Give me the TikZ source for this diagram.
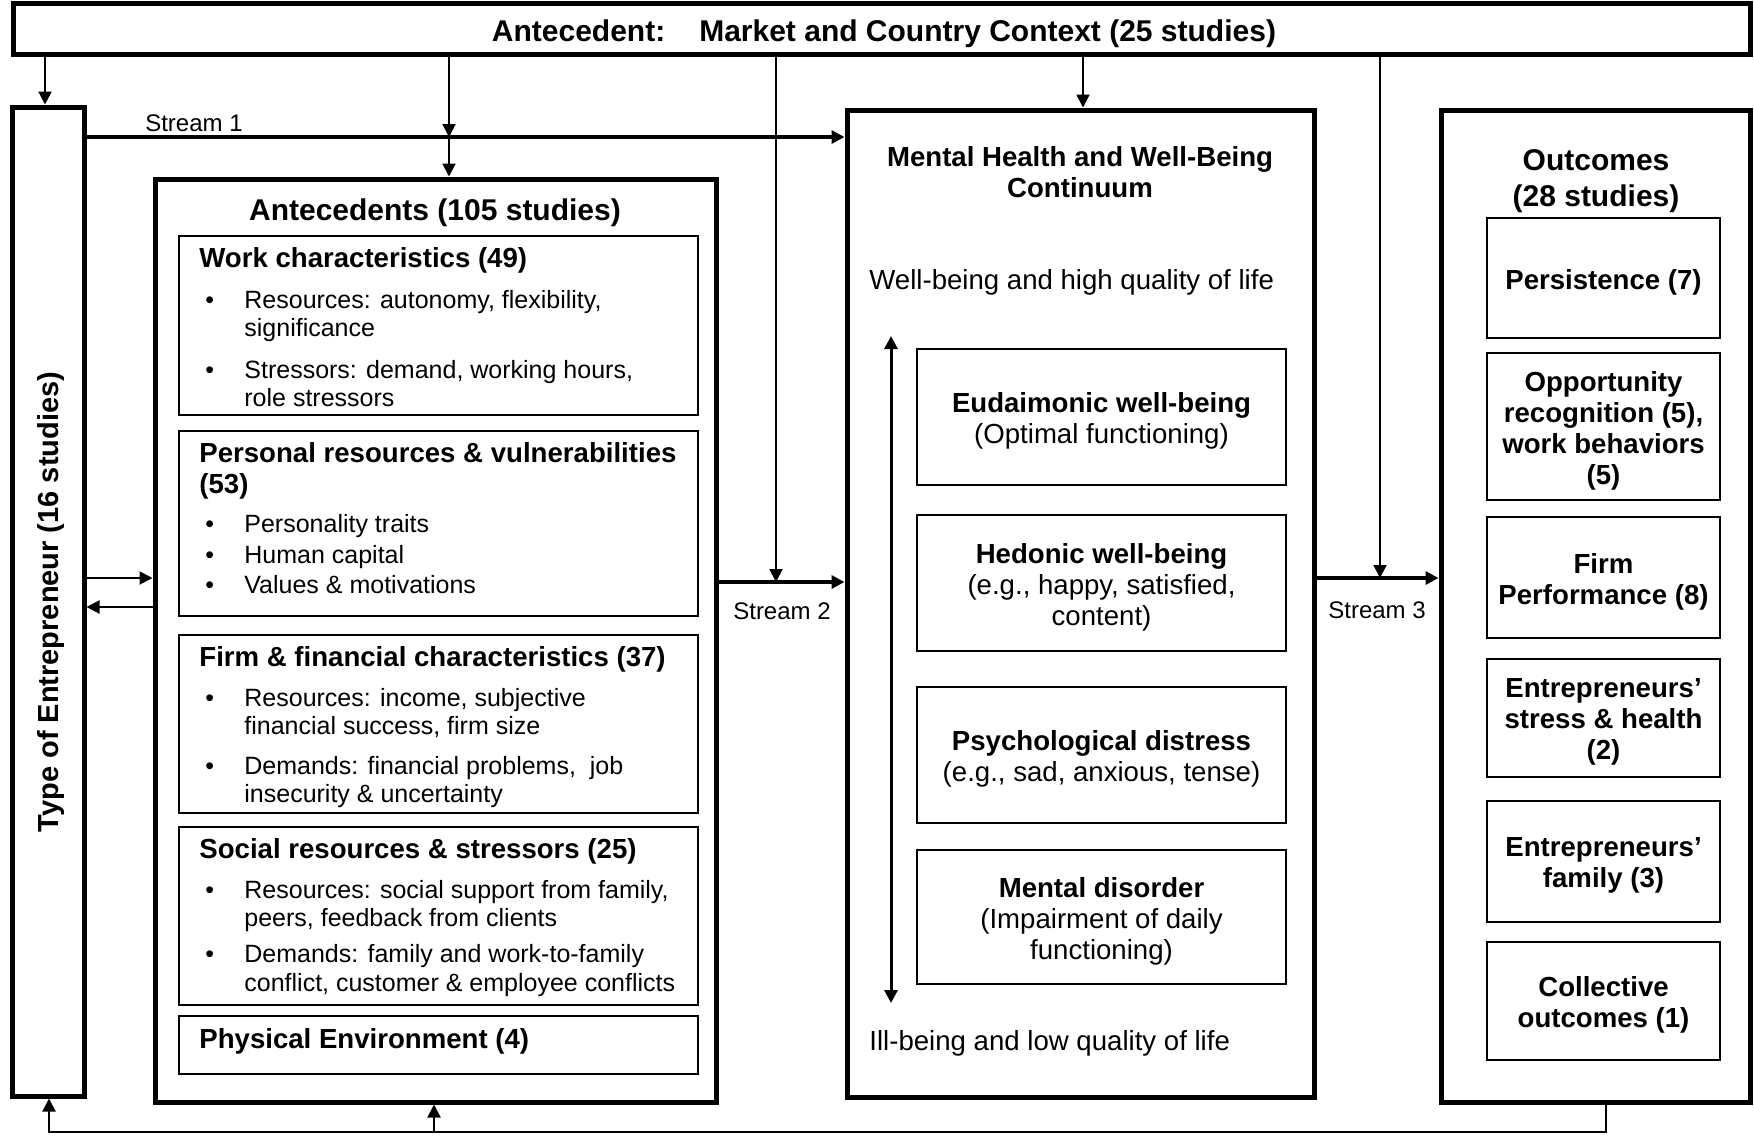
\documentclass[tikz,border=0pt]{standalone}
\usepackage{fontspec}
\setmainfont{Liberation Sans}
\usetikzlibrary{arrows.meta,fit}
\newcommand\myfs[2]{\fontsize{#1}{#2}\selectfont}
\begin{document}
\begin{tikzpicture}[x=0.5pt,y=-0.5pt,
  every node/.style={inner sep=0pt},
  mainbox/.style={draw, line width=2.5pt},
  subbox/.style={draw, line width=1pt},
  tline/.style={anchor=west, text height=0.72em, text depth=0pt, font=\myfs{12.5}{14}},
  thead/.style={anchor=west, text height=0.72em, text depth=0pt, font=\bfseries\myfs{13.8}{15.5}},
  mhtext/.style={anchor=west, text height=0.72em, text depth=0pt, font=\myfs{13.8}{15.5}},
  slabel/.style={font=\myfs{12}{14}},
  mytip/.style={-{Triangle[length=6.5pt,width=6.5pt]}},
  thinarrow/.style={line width=1pt, mytip},
  streamarrow/.style={line width=2.3pt, mytip},
  innertext/.style={align=center, yshift=-2pt, font=\myfs{13.8}{15.5}},
  outtext/.style={align=center, yshift=-2pt, font=\bfseries\myfs{13.8}{15.5}}
]
\useasboundingbox (0,0) rectangle (1754,1136);

% main boxes
\node[mainbox, fit={(13,3) (1750,54)}] (topbar) {};
\node[font=\bfseries\myfs{15}{18}] (toptitle) at (884,34) {Antecedent:\hspace{17pt}Market and Country Context (25 studies)};

\node[mainbox, fit={(12,107) (84,1096)}] (type) {};
\node[font=\bfseries\myfs{14.5}{17}, rotate=90] (typetext) at (51,602) {Type of Entrepreneur (16 studies)};

\node[mainbox, fit={(155,179) (716,1102)}] (ante) {};
\node[font=\bfseries\myfs{15}{18}] (antetitle) at (435,213) {Antecedents (105 studies)};

\node[mainbox, fit={(847,110) (1314,1097)}] (mh) {};
\node[font=\bfseries\myfs{13.8}{15.5}, align=center] (mhtitle) at (1080,172) {Mental Health and Well-Being\\Continuum};

\node[mainbox, fit={(1441,110) (1750,1102)}] (outc) {};
\node[font=\bfseries\myfs{15}{18}, align=center] (outtitle) at (1596,181) {Outcomes\\(28 studies)};

% antecedent sub boxes
\node[subbox, fit={(179,236) (698,415)}] (work) {};
\node[thead] (worka) at (199,260) {Work characteristics (49)};
\node[tline] (workb1) at (205,301) {\textbullet};
\node[tline] (workb) at (244,301) {Resources: autonomy, flexibility,};
\node[tline] (workc) at (244,329) {significance};
\node[tline] (workd1) at (205,371) {\textbullet};
\node[tline] (workd) at (244,371) {Stressors: demand, working hours,};
\node[tline] (worke) at (244,399) {role stressors};

\node[subbox, fit={(179,431) (698,616)}] (pers) {};
\node[thead] (persa) at (199,455) {Personal resources \& vulnerabilities};
\node[thead] (persb) at (199,486) {(53)};
\node[tline] (persc1) at (205,525) {\textbullet};
\node[tline] (persc) at (244,525) {Personality traits};
\node[tline] (persd1) at (205,556) {\textbullet};
\node[tline] (persd) at (244,556) {Human capital};
\node[tline] (perse1) at (205,586) {\textbullet};
\node[tline] (perse) at (244,586) {Values \& motivations};

\node[subbox, fit={(179,635) (698,813)}] (firm) {};
\node[thead] (firma) at (199,659) {Firm \& financial characteristics (37)};
\node[tline] (firmb1) at (205,699) {\textbullet};
\node[tline] (firmb) at (244,699) {Resources: income, subjective};
\node[tline] (firmc) at (244,727) {financial success, firm size};
\node[tline] (firmd1) at (205,767) {\textbullet};
\node[tline] (firmd) at (244,767) {Demands: financial problems,\ \ job};
\node[tline] (firme) at (244,795) {insecurity \& uncertainty};

\node[subbox, fit={(179,827) (698,1005)}] (soc) {};
\node[thead] (soca) at (199,851) {Social resources \& stressors (25)};
\node[tline] (socb1) at (205,891) {\textbullet};
\node[tline] (socb) at (244,891) {Resources: social support from family,};
\node[tline] (socc) at (244,919) {peers, feedback from clients};
\node[tline] (socd1) at (205,955) {\textbullet};
\node[tline] (socd) at (244,955) {Demands: family and work-to-family};
\node[tline] (soce) at (244,984) {conflict, customer \& employee conflicts};

\node[subbox, fit={(179,1016) (698,1074)}] (phys) {};
\node[thead] (physa) at (199,1041) {Physical Environment (4)};

% mental health inner
\node[mhtext] (wellhigh) at (869,282) {Well-being and high quality of life};
\node[mhtext] (illlow) at (869,1043) {Ill-being and low quality of life};
\node[subbox, fit={(917,349) (1286,485)}] (eud) {};
\node[innertext] (eudt) at (eud.center) {\textbf{Eudaimonic well-being}\\(Optimal functioning)};
\node[subbox, fit={(917,515) (1286,651)}] (hed) {};
\node[innertext] (hedt) at (hed.center) {\textbf{Hedonic well-being}\\(e.g., happy, satisfied,\\content)};
\node[subbox, fit={(917,687) (1286,823)}] (psy) {};
\node[innertext] (psyt) at (psy.center) {\textbf{Psychological distress}\\(e.g., sad, anxious, tense)};
\node[subbox, fit={(917,850) (1286,984)}] (mdis) {};
\node[innertext] (mdist) at (mdis.center) {\textbf{Mental disorder}\\(Impairment of daily\\functioning)};
\coordinate (dtop) at (891,336);
\coordinate (dbot) at (891,1003);
\draw[line width=1.5pt, {Triangle[length=6.5pt,width=6.5pt]}-{Triangle[length=6.5pt,width=6.5pt]}] (dtop) -- (dbot);

% outcomes inner
\node[subbox, fit={(1487,218) (1720,338)}] (o1) {};
\node[outtext] (o1t) at (o1.center) {Persistence (7)};
\node[subbox, fit={(1487,353) (1720,500)}] (o2) {};
\node[outtext] (o2t) at (o2.center) {Opportunity\\recognition (5),\\work behaviors\\(5)};
\node[subbox, fit={(1487,517) (1720,638)}] (o3) {};
\node[outtext] (o3t) at (o3.center) {Firm\\Performance (8)};
\node[subbox, fit={(1487,659) (1720,777)}] (o4) {};
\node[outtext] (o4t) at (o4.center) {Entrepreneurs’\\stress \& health\\(2)};
\node[subbox, fit={(1487,801) (1720,922)}] (o5) {};
\node[outtext] (o5t) at (o5.center) {Entrepreneurs’\\family (3)};
\node[subbox, fit={(1487,942) (1720,1060)}] (o6) {};
\node[outtext] (o6t) at (o6.center) {Collective\\outcomes (1)};

% helper coordinates
\coordinate (xa) at (45,0);
\coordinate (xb) at (449,0);
\coordinate (xc) at (776,0);
\coordinate (xd) at (1083,0);
\coordinate (xe) at (1380,0);
\coordinate (xf) at (1606,0);
\coordinate (xg) at (434,0);
\coordinate (xh) at (49,0);
\coordinate (s1) at (0,137);
\coordinate (s2) at (0,582);
\coordinate (s3) at (0,578);
\coordinate (r1) at (0,578);
\coordinate (r2) at (0,607);
\coordinate (bot) at (0,1132);

% connectors
\draw[thinarrow] (topbar.south -| xa) -- (type.north -| xa);
\draw[thinarrow] (topbar.south -| xb) -- (s1 -| xb);
\draw[thinarrow] (s1 -| xb) -- (ante.north -| xb);
\draw[thinarrow] (topbar.south -| xc) -- (s2 -| xc);
\draw[thinarrow] (topbar.south -| xd) -- (mh.north -| xd);
\draw[thinarrow] (topbar.south -| xe) -- (s3 -| xe);

\draw[streamarrow] (type.east |- s1) -- (mh.west |- s1);
\draw[streamarrow] (ante.east |- s2) -- (mh.west |- s2);
\draw[streamarrow] (mh.east |- s3) -- (outc.west |- s3);

\draw[thinarrow] (type.east |- r1) -- (ante.west |- r1);
\draw[thinarrow] (ante.west |- r2) -- (type.east |- r2);

\draw[thinarrow] (outc.south -| xf) -- (bot -| xf) -- (bot -| xh) -- (type.south -| xh);
\draw[thinarrow] (bot -| xg) -- (ante.south -| xg);

\node[slabel] (st1) at (194,123) {Stream 1};
\node[slabel] (st2) at (782,611) {Stream 2};
\node[slabel] (st3) at (1377,610) {Stream 3};
\end{tikzpicture}
\end{document}
